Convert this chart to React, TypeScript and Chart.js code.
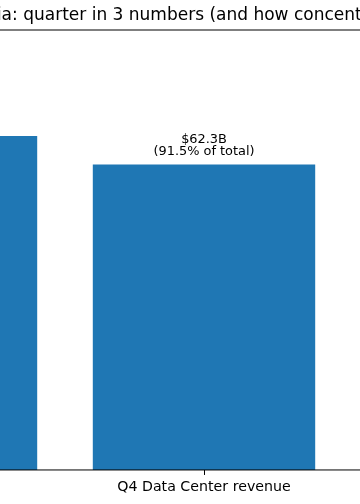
import React, { useEffect, useRef } from 'react';
import { Chart, registerables } from 'chart.js';

Chart.register(...registerables);

const TITLE = 'Nvidia: quarter in 3 numbers (and how concentrated it is)';
const categories = ['Q4 total revenue', 'Q4 Data Center revenue', 'Q1 revenue outlook'];
const values = [68.1, 62.3, 78.0];
const valueLabels = ['$68.1B', '$62.3B', '$78.0B'];
const shareLabels = ['(100% of total)', '(91.5% of total)', '(guidance)'];
const Y_MAX = 89.7;

const FONT = '"DejaVu Sans", sans-serif';

export default function App() {
  const ref = useRef<HTMLCanvasElement>(null);

  useEffect(() => {
    const canvas = ref.current;
    if (!canvas) return;

    const annotations = {
      id: 'annotations',
      afterDatasetsDraw(chart: any) {
        const ctx = chart.ctx;
        const meta = chart.getDatasetMeta(0);
        ctx.save();
        ctx.fillStyle = '#000';
        ctx.font = `12.9px ${FONT}`;
        ctx.textAlign = 'center';
        ctx.textBaseline = 'alphabetic';
        meta.data.forEach((bar: any, i: number) => {
          ctx.fillText(valueLabels[i], bar.x, bar.y - 21);
          ctx.fillText(shareLabels[i], bar.x, bar.y - 9);
        });
        ctx.restore();
      },
    };

    const spines = {
      id: 'spines',
      afterDraw(chart: any) {
        const { ctx, chartArea } = chart;
        ctx.save();
        ctx.strokeStyle = '#000';
        ctx.lineWidth = 1;
        ctx.strokeRect(chartArea.left, chartArea.top, chartArea.right - chartArea.left, chartArea.bottom - chartArea.top);
        ctx.restore();
      },
    };

    const chart = new Chart(canvas, {
      type: 'bar',
      data: {
        labels: categories,
        datasets: [
          {
            data: values,
            backgroundColor: '#1f77b4',
            borderWidth: 0,
            barPercentage: 0.8,
            categoryPercentage: 1,
          },
        ],
      },
      options: {
        responsive: false,
        animation: false,
        devicePixelRatio: 1,
        layout: { padding: { top: 0, bottom: 4, left: 0, right: 0 } },
        plugins: {
          legend: { display: false },
          tooltip: { enabled: false },
          title: {
            display: true,
            text: TITLE,
            color: '#000',
            font: { family: FONT, size: 17, weight: 'normal' },
            padding: { top: 5.5, bottom: 4.1 },
          },
        },
        scales: {
          x: {
            offset: true,
            grid: {
              offset: false,
              drawOnChartArea: false,
              drawTicks: true,
              tickLength: 5,
              color: '#000',
              lineWidth: 1,
            },
            border: { display: false },
            ticks: {
              color: '#000',
              font: { family: FONT, size: 14.2 },
              padding: 4,
              autoSkip: false,
              maxRotation: 0,
              minRotation: 0,
            },
          },
          y: {
            display: false,
            min: 0,
            max: Y_MAX,
          },
        },
      },
      plugins: [annotations, spines],
    });

    return () => chart.destroy();
  }, []);

  return (
    <div
      style={{
        position: 'fixed',
        left: 0,
        top: 0,
        width: 360,
        height: 504,
        overflow: 'hidden',
        background: '#fff',
      }}
    >
      <canvas
        ref={ref}
        width={834}
        height={504}
        style={{ position: 'absolute', left: -213, top: 0, width: 834, height: 504 }}
      />
    </div>
  );
}
